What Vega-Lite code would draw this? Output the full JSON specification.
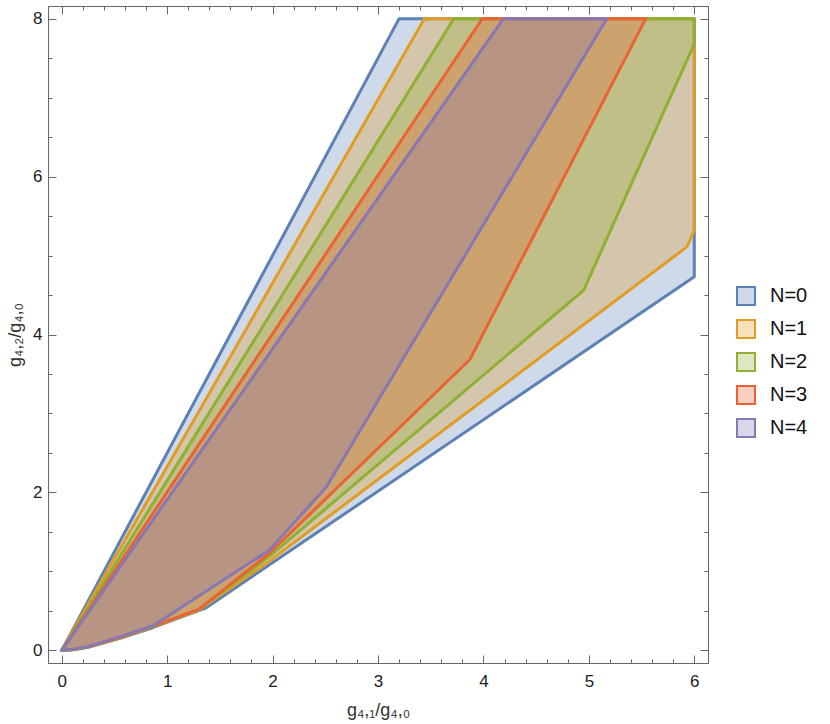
{
  "$schema": "https://vega.github.io/schema/vega-lite/v6.json",
  "width": 660,
  "height": 657,
  "autosize": {"type": "none"},
  "padding": {"left": 48, "top": 6, "right": 122, "bottom": 61},
  "background": "white",
  "config": {"view": {"stroke": null}, "axis": {"grid": false, "labelFlush": false, "tickColor": "#666", "domainColor": "#666", "labelFont": "Liberation Sans", "titleFont": "Liberation Sans"}},
  "data": {"values": [
    {"N": "N=0", "i": 0, "x": 0, "y": 0},
    {"N": "N=0", "i": 1, "x": 0.1, "y": 0.008},
    {"N": "N=0", "i": 2, "x": 0.25, "y": 0.04},
    {"N": "N=0", "i": 3, "x": 0.57, "y": 0.16},
    {"N": "N=0", "i": 4, "x": 0.87, "y": 0.29},
    {"N": "N=0", "i": 5, "x": 1.37, "y": 0.54},
    {"N": "N=0", "i": 6, "x": 6, "y": 4.73},
    {"N": "N=0", "i": 7, "x": 6, "y": 8},
    {"N": "N=0", "i": 8, "x": 3.2, "y": 8},
    {"N": "N=1", "i": 0, "x": 0, "y": 0},
    {"N": "N=1", "i": 1, "x": 0.1, "y": 0.009},
    {"N": "N=1", "i": 2, "x": 0.25, "y": 0.042},
    {"N": "N=1", "i": 3, "x": 0.57, "y": 0.165},
    {"N": "N=1", "i": 4, "x": 0.87, "y": 0.3},
    {"N": "N=1", "i": 5, "x": 1.3, "y": 0.51},
    {"N": "N=1", "i": 6, "x": 1.97, "y": 1.13},
    {"N": "N=1", "i": 7, "x": 5.93, "y": 5.11},
    {"N": "N=1", "i": 8, "x": 6, "y": 5.32},
    {"N": "N=1", "i": 9, "x": 6, "y": 8},
    {"N": "N=1", "i": 10, "x": 3.44, "y": 8},
    {"N": "N=2", "i": 0, "x": 0, "y": 0},
    {"N": "N=2", "i": 1, "x": 0.1, "y": 0.009},
    {"N": "N=2", "i": 2, "x": 0.25, "y": 0.043},
    {"N": "N=2", "i": 3, "x": 0.57, "y": 0.168},
    {"N": "N=2", "i": 4, "x": 0.87, "y": 0.305},
    {"N": "N=2", "i": 5, "x": 1.3, "y": 0.515},
    {"N": "N=2", "i": 6, "x": 1.97, "y": 1.19},
    {"N": "N=2", "i": 7, "x": 4.95, "y": 4.56},
    {"N": "N=2", "i": 8, "x": 6, "y": 7.68},
    {"N": "N=2", "i": 9, "x": 6, "y": 8},
    {"N": "N=2", "i": 10, "x": 3.72, "y": 8},
    {"N": "N=3", "i": 0, "x": 0, "y": 0},
    {"N": "N=3", "i": 1, "x": 0.1, "y": 0.01},
    {"N": "N=3", "i": 2, "x": 0.25, "y": 0.044},
    {"N": "N=3", "i": 3, "x": 0.57, "y": 0.172},
    {"N": "N=3", "i": 4, "x": 0.87, "y": 0.31},
    {"N": "N=3", "i": 5, "x": 1.3, "y": 0.52},
    {"N": "N=3", "i": 6, "x": 1.97, "y": 1.23},
    {"N": "N=3", "i": 7, "x": 3.87, "y": 3.68},
    {"N": "N=3", "i": 8, "x": 5.54, "y": 8},
    {"N": "N=3", "i": 9, "x": 3.99, "y": 8},
    {"N": "N=4", "i": 0, "x": 0, "y": 0},
    {"N": "N=4", "i": 1, "x": 0.1, "y": 0.011},
    {"N": "N=4", "i": 2, "x": 0.25, "y": 0.047},
    {"N": "N=4", "i": 3, "x": 0.57, "y": 0.18},
    {"N": "N=4", "i": 4, "x": 0.87, "y": 0.315},
    {"N": "N=4", "i": 5, "x": 1.97, "y": 1.27},
    {"N": "N=4", "i": 6, "x": 2.51, "y": 2.07},
    {"N": "N=4", "i": 7, "x": 5.17, "y": 8},
    {"N": "N=4", "i": 8, "x": 4.19, "y": 8}
  ]},
  "layer": [
    {
      "mark": {"type": "line", "interpolate": "linear-closed", "strokeWidth": 3, "strokeJoin": "round"},
      "encoding": {
        "x": {"field": "x", "type": "quantitative", "scale": {"domain": [-0.13, 6.13], "nice": false, "zero": false},
              "axis": {"orient": "bottom", "values": [0, 1, 2, 3, 4, 5, 6], "format": "d", "tickSize": -8, "labelPadding": 18, "labelFontSize": 17, "labelColor": "#222", "title": "g₄,₁/g₄,₀", "titleFontSize": 18, "titleFontWeight": "normal", "titleColor": "#333", "titlePadding": 12}},
        "y": {"field": "y", "type": "quantitative", "scale": {"domain": [-0.16, 8.16], "nice": false, "zero": false},
              "axis": {"orient": "left", "values": [0, 2, 4, 6, 8], "format": "d", "tickSize": -8, "labelPadding": 14, "labelFontSize": 17, "labelColor": "#222", "title": "g₄,₂/g₄,₀", "titleFontSize": 18, "titleFontWeight": "normal", "titleColor": "#333", "titlePadding": 8}},
        "order": {"field": "i", "type": "quantitative"},
        "fill": {"field": "N", "type": "nominal",
                 "scale": {"domain": ["N=0", "N=1", "N=2", "N=3", "N=4"], "range": ["rgba(94,129,181,0.3)", "rgba(225,156,36,0.3)", "rgba(143,176,50,0.3)", "rgba(235,98,53,0.3)", "rgba(135,120,179,0.3)"]},
                 "legend": {"title": null, "orient": "none", "legendX": 688, "legendY": 280, "symbolType": "square", "symbolSize": 324, "symbolStrokeWidth": 2, "labelFontSize": 20, "labelFont": "Liberation Sans", "labelColor": "#111", "labelOffset": 14, "rowPadding": 7}},
        "stroke": {"field": "N", "type": "nominal",
                   "scale": {"domain": ["N=0", "N=1", "N=2", "N=3", "N=4"], "range": ["#5E81B5", "#E19C24", "#8FB032", "#EB6235", "#8778B3"]},
                   "legend": {"title": null, "orient": "none", "legendX": 688, "legendY": 280, "symbolType": "square", "symbolSize": 324, "symbolStrokeWidth": 2, "labelFontSize": 20, "labelFont": "Liberation Sans", "labelColor": "#111", "labelOffset": 14, "rowPadding": 7}}
      }
    },
    {
      "mark": {"type": "point", "opacity": 0},
      "encoding": {
        "x": {"field": "x", "type": "quantitative", "scale": {"domain": [-0.13, 6.13], "nice": false, "zero": false},
              "axis": {"orient": "bottom", "values": [0.2, 0.4, 0.6, 0.8, 1.2, 1.4, 1.6, 1.8, 2.2, 2.4, 2.6, 2.8, 3.2, 3.4, 3.6, 3.8, 4.2, 4.4, 4.6, 4.8, 5.2, 5.4, 5.6, 5.8], "tickSize": -4, "labels": false, "title": null}},
        "y": {"field": "y", "type": "quantitative", "scale": {"domain": [-0.16, 8.16], "nice": false, "zero": false},
              "axis": {"orient": "left", "values": [0.5, 1, 1.5, 2.5, 3, 3.5, 4.5, 5, 5.5, 6.5, 7, 7.5], "tickSize": -4, "labels": false, "title": null}}
      }
    },
    {
      "mark": {"type": "point", "opacity": 0},
      "encoding": {
        "x": {"field": "x", "type": "quantitative", "scale": {"domain": [-0.13, 6.13], "nice": false, "zero": false},
              "axis": {"orient": "top", "values": [0, 1, 2, 3, 4, 5, 6], "tickSize": -8, "labels": false, "title": null}},
        "y": {"field": "y", "type": "quantitative", "scale": {"domain": [-0.16, 8.16], "nice": false, "zero": false},
              "axis": {"orient": "right", "values": [0, 2, 4, 6, 8], "tickSize": -8, "labels": false, "title": null}}
      }
    },
    {
      "mark": {"type": "point", "opacity": 0},
      "encoding": {
        "x": {"field": "x", "type": "quantitative", "scale": {"domain": [-0.13, 6.13], "nice": false, "zero": false},
              "axis": {"orient": "top", "values": [0.2, 0.4, 0.6, 0.8, 1.2, 1.4, 1.6, 1.8, 2.2, 2.4, 2.6, 2.8, 3.2, 3.4, 3.6, 3.8, 4.2, 4.4, 4.6, 4.8, 5.2, 5.4, 5.6, 5.8], "tickSize": -4, "labels": false, "title": null}},
        "y": {"field": "y", "type": "quantitative", "scale": {"domain": [-0.16, 8.16], "nice": false, "zero": false},
              "axis": {"orient": "right", "values": [0.5, 1, 1.5, 2.5, 3, 3.5, 4.5, 5, 5.5, 6.5, 7, 7.5], "tickSize": -4, "labels": false, "title": null}}
      }
    }
  ],
  "resolve": {"axis": {"x": "independent", "y": "independent"}}
}
